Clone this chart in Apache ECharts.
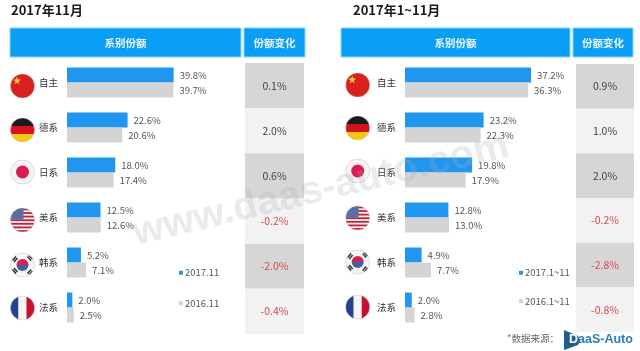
<!DOCTYPE html>
<html>
<head>
<meta charset="utf-8">
<style>
    html, body { margin: 0; padding: 0; background: #fff; }
    #main { width: 640px; height: 351px; filter: blur(0.4px); }
</style>
<script src="https://cdn.jsdelivr.net/npm/echarts@6/dist/echarts.min.js"></script>
</head>
<body>
<div id="main"></div>
<script>
    var categories = ['自主', '德系', '日系', '美系', '韩系', '法系'];

    var monthNow = [39.8, 22.6, 18.0, 12.5, 5.2, 2.0];
    var monthPrev = [39.7, 20.6, 17.4, 12.6, 7.1, 2.5];
    var monthChange = [0.1, 2.0, 0.6, -0.2, -2.0, -0.4];

    var ytdNow = [37.2, 23.2, 19.8, 12.8, 4.9, 2.0];
    var ytdPrev = [36.3, 22.3, 17.9, 13.0, 7.7, 2.8];
    var ytdChange = [0.9, 1.0, 2.0, -0.2, -2.8, -0.8];

    var FONT = '"Noto Sans CJK SC", "Liberation Sans", sans-serif';
    var BLUE = '#2196f0', GREY = '#d4d4d4', HEAD = '#0a9ff5';

    function flag(body) {
        var svg = '<svg xmlns="http://www.w3.org/2000/svg" width="25" height="25" viewBox="0 0 50 50">' +
            '<defs><clipPath id="c"><circle cx="25" cy="25" r="24"/></clipPath></defs>' +
            '<g clip-path="url(#c)">' + body + '</g>' +
            '<circle cx="25" cy="25" r="24" fill="none" stroke="#bbb" stroke-opacity=".45" stroke-width="2"/></svg>';
        return 'data:image/svg+xml;charset=utf-8,' + encodeURIComponent(svg);
    }

    var usStripes = '';
    for (var s = 0; s < 7; s++) {
        usStripes += '<rect x="0" y="' + (2 + s * 7.2) + '" width="50" height="3.6" fill="#c0243c"/>';
    }

    var flags = [
        flag('<rect width="50" height="50" fill="#d8201c"/><polygon points="14,6 16,12 22,12 17,16 19,22 14,18 9,22 11,16 6,12 12,12" fill="#f7d33c"/>'),
        flag('<rect width="50" height="17" fill="#1a1a1a"/><rect y="17" width="50" height="16" fill="#d4141c"/><rect y="33" width="50" height="17" fill="#f6c812"/>'),
        flag('<rect width="50" height="50" fill="#f8f4f4"/><circle cx="25" cy="25" r="13" fill="#d81e50"/>'),
        flag('<rect width="50" height="50" fill="#f4f0f2"/>' + usStripes + '<rect width="27" height="24" fill="#5a6fa8"/>'),
        flag('<rect width="50" height="50" fill="#f6f6f6"/><path d="M13 25a12 12 0 0 1 24 0z" fill="#d8204c"/><path d="M13 25a12 12 0 0 0 24 0z" fill="#3a64a8"/>' +
            '<g stroke="#333" stroke-width="3"><path d="M5 16l7-8M8 19l7-8M35 8l7 8M38 5l7 8M5 34l7 8M8 31l7 8M35 42l7-8M38 45l7-8"/></g>'),
        flag('<rect width="17" height="50" fill="#25408f"/><rect x="17" width="16" height="50" fill="#f6f6f6"/><rect x="33" width="17" height="50" fill="#c8102e"/>')
    ];

    var option = {
        animation: false,
        backgroundColor: '#fff',
        grid: [], xAxis: [], yAxis: [], series: [], legend: [], graphic: []
    };

    function addPanel(p) {
        var barGrid = option.grid.length;
        var cellGrid = barGrid + 1;

        option.grid.push(
            {left: p.barLeft, top: 60, width: p.barWidth, height: 270},
            {left: p.cellLeft, top: p.cellTop, width: p.cellWidth, height: p.cellHeight}
        );
        option.xAxis.push(
            {gridIndex: barGrid, type: 'value', min: 0, max: 50, show: false},
            {gridIndex: cellGrid, type: 'value', min: 0, max: 1, show: false}
        );
        option.yAxis.push({
            gridIndex: barGrid,
            type: 'category',
            inverse: true,
            data: categories,
            axisLine: {show: false},
            axisTick: {show: false},
            axisLabel: {margin: 9, fontSize: 9.5, color: '#333', fontFamily: FONT}
        }, {
            gridIndex: cellGrid,
            type: 'category',
            inverse: true,
            data: categories,
            show: false
        });

        function barSeries(name, values, color) {
            return {
                name: name,
                type: 'bar',
                xAxisIndex: barGrid,
                yAxisIndex: barGrid,
                data: values,
                barWidth: 15,
                barGap: 0,
                itemStyle: {color: color},
                label: {
                    show: true,
                    position: 'right',
                    distance: 6,
                    fontSize: 9.5,
                    color: '#555',
                    fontFamily: FONT,
                    formatter: function (o) { return o.value.toFixed(1) + '%'; }
                }
            };
        }
        option.series.push(barSeries(p.nowName, p.now, BLUE), barSeries(p.prevName, p.prev, GREY));

        // 份额变化 column, one shaded cell per category
        option.series.push({
            type: 'custom',
            xAxisIndex: cellGrid,
            yAxisIndex: cellGrid,
            data: p.change.map(function (v, i) { return [v, i]; }),
            encode: {x: 0, y: 1},
            renderItem: function (params, api) {
                var v = api.value(0), i = api.value(1);
                var c = api.coord([0, i]);
                var h = api.size([0, 1])[1];
                var cs = params.coordSys;
                return {
                    type: 'group',
                    children: [{
                        type: 'rect',
                        shape: {x: cs.x, y: c[1] - h / 2, width: cs.width, height: h},
                        style: {fill: i % 2 ? '#f2f2f2' : '#d6d6d6'}
                    }, {
                        type: 'text',
                        x: cs.x + cs.width / 2,
                        y: c[1],
                        style: {
                            text: v.toFixed(1) + '%',
                            fill: v < 0 ? '#d9484f' : '#444',
                            fontSize: 10.5,
                            fontFamily: FONT,
                            align: 'center',
                            verticalAlign: 'middle'
                        }
                    }]
                };
            }
        });

        option.legend.push({
            data: [p.nowName, p.prevName],
            orient: 'vertical',
            left: p.legendLeft,
            top: 268,
            itemWidth: 4,
            itemHeight: 4,
            itemGap: p.legendGap,
            icon: 'rect',
            padding: 0,
            textStyle: {fontSize: 9.5, color: '#555', fontFamily: FONT, padding: [0, 0, 0, -3]}
        });

        function header(x, w, text) {
            return {
                type: 'group',
                children: [{
                    type: 'rect',
                    shape: {x: x, y: 28, width: w, height: 29},
                    style: {fill: HEAD, stroke: '#7fd8fa', lineWidth: 1}
                }, {
                    type: 'text',
                    x: x + w / 2,
                    y: 43,
                    style: {text: text, fill: '#e8f6ff', fontSize: 10.5, fontWeight: 'bold', fontFamily: FONT, align: 'center', verticalAlign: 'middle'}
                }]
            };
        }
        option.graphic.push(
            {
                type: 'text',
                left: p.titleLeft,
                top: 4,
                style: {text: p.title, fill: '#1a1a1a', fontSize: 13, fontWeight: 'bold', fontFamily: FONT}
            },
            header(p.headLeft, p.headWidth, '系别份额'),
            header(p.head2Left, p.head2Width, '份额变化')
        );
        p.flagY.forEach(function (y, i) {
            option.graphic.push({
                type: 'image',
                style: {image: flags[i], x: p.flagX - 12.5, y: y - 12.5, width: 25, height: 25}
            });
        });
    }

    addPanel({
        title: '2017年11月', titleLeft: 11,
        nowName: '2017.11', prevName: '2016.11',
        now: monthNow, prev: monthPrev, change: monthChange,
        barLeft: 67, barWidth: 134,
        cellLeft: 245, cellTop: 63, cellWidth: 59, cellHeight: 271,
        headLeft: 10, headWidth: 231, head2Left: 244, head2Width: 61,
        legendLeft: 179, legendGap: 21,
        flagX: 22.5, flagY: [86, 130, 172, 220, 265, 308]
    });
    addPanel({
        title: '2017年1~11月', titleLeft: 353,
        nowName: '2017.1~11', prevName: '2016.1~11',
        now: ytdNow, prev: ytdPrev, change: ytdChange,
        barLeft: 405, barWidth: 169.5,
        cellLeft: 576, cellTop: 64, cellWidth: 58, cellHeight: 268,
        headLeft: 341, headWidth: 229, head2Left: 573, head2Width: 60,
        legendLeft: 519, legendGap: 19,
        flagX: 357.7, flagY: [85, 128, 171, 218, 262, 307]
    });

    // watermark and source line
    option.graphic.push({
        type: 'text',
        x: 138, y: 254,
        rotation: 0.233,
        z: 50,
        silent: true,
        style: {text: 'www.daas-auto.com', fill: 'rgba(170,170,180,0.24)', fontSize: 40, fontWeight: 'bold', fontFamily: '"Liberation Sans", sans-serif', verticalAlign: 'bottom'}
    }, {
        type: 'text',
        left: 507, top: 334,
        style: {text: '*数据来源：', fill: '#666', fontSize: 9.5, fontFamily: FONT}
    }, {
        type: 'polygon',
        shape: {points: [[564, 330], [578, 336], [580, 340], [578, 345], [564, 350]]},
        style: {fill: '#1d5f8e'}
    }, {
        type: 'text',
        left: 569, top: 333,
        style: {
            text: '{d|D}aaS-Auto',
            fill: '#2a7fb4',
            fontSize: 12.5,
            fontWeight: 'bold',
            fontFamily: '"Liberation Sans", sans-serif',
            rich: {d: {fill: '#fff', fontSize: 12.5, fontWeight: 'bold', fontFamily: '"Liberation Sans", sans-serif'}}
        }
    });

    var chart = echarts.init(document.getElementById('main'));
    chart.setOption(option);
</script>
</body>
</html>
